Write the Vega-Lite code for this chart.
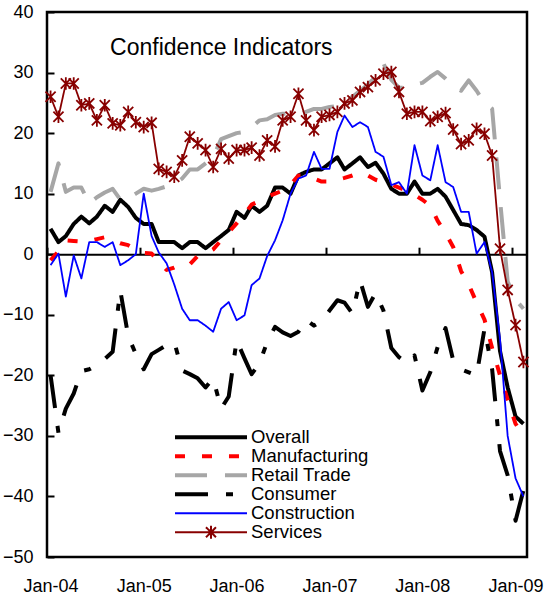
{
  "$schema": "https://vega.github.io/schema/vega-lite/v6.json",
  "width": 480,
  "height": 545,
  "autosize": {"type": "none"},
  "padding": {"left": 47, "top": 12, "right": 19, "bottom": 41},
  "background": "white",
  "config": {
    "font": "Liberation Sans",
    "view": {"stroke": "black", "strokeWidth": 2.5},
    "axis": {"labelFont": "Liberation Sans", "labelFontSize": 18, "labelColor": "black", "grid": false, "title": null},
    "legend": {
      "title": null, "orient": "none", "legendX": 154.75, "legendY": 416,
      "symbolSize": 210, "rowPadding": -2,
      "labelFont": "Liberation Sans", "labelFontSize": 18.5, "labelColor": "black", "labelOffset": 30.75,
      "symbolStrokeWidth": 4, "padding": 0
    }
  },
  "data": {"values": [
    {"d": "2004/01/15", "Overall": 4.2, "Manufacturing": -1, "Retail Trade": 10.3, "Consumer": -20, "Construction": -1.8, "Services": 26},
    {"d": "2004/02/15", "Overall": 2, "Manufacturing": 0.5, "Retail Trade": 15, "Consumer": -29.5, "Construction": 0.1, "Services": 22.7},
    {"d": "2004/03/15", "Overall": 3, "Manufacturing": 2.3, "Retail Trade": 10.3, "Consumer": -25.5, "Construction": -7, "Services": 28.2},
    {"d": "2004/04/15", "Overall": 5, "Manufacturing": 2.2, "Retail Trade": 11, "Consumer": -23, "Construction": -0.2, "Services": 28.2},
    {"d": "2004/05/15", "Overall": 6.2, "Manufacturing": 2.1, "Retail Trade": 11, "Consumer": -19.3, "Construction": -4, "Services": 24.6},
    {"d": "2004/06/15", "Overall": 5.1, "Manufacturing": 2.2, "Retail Trade": 8.4, "Consumer": -19, "Construction": 2, "Services": 24.9},
    {"d": "2004/07/15", "Overall": 6.2, "Manufacturing": 2.5, "Retail Trade": 9.4, "Consumer": -18.3, "Construction": 2, "Services": 22.1},
    {"d": "2004/08/15", "Overall": 8, "Manufacturing": 2.8, "Retail Trade": 10.2, "Consumer": -17.3, "Construction": 1.2, "Services": 24.6},
    {"d": "2004/09/15", "Overall": 7, "Manufacturing": 2.3, "Retail Trade": 10.8, "Consumer": -16.1, "Construction": 2, "Services": 21.6},
    {"d": "2004/10/15", "Overall": 9, "Manufacturing": 1.8, "Retail Trade": 9, "Consumer": -6, "Construction": -1.8, "Services": 21.3},
    {"d": "2004/11/15", "Overall": 7.8, "Manufacturing": 1.5, "Retail Trade": 9.2, "Consumer": -13.5, "Construction": -1, "Services": 23.5},
    {"d": "2004/12/15", "Overall": 6, "Manufacturing": 0.8, "Retail Trade": 10, "Consumer": -16.5, "Construction": 0, "Services": 21.8},
    {"d": "2005/01/15", "Overall": 5, "Manufacturing": 0.2, "Retail Trade": 10.8, "Consumer": -19, "Construction": 10, "Services": 21},
    {"d": "2005/02/15", "Overall": 5, "Manufacturing": 0.1, "Retail Trade": 10.5, "Consumer": -16.5, "Construction": 3, "Services": 21.7},
    {"d": "2005/03/15", "Overall": 2, "Manufacturing": -1.2, "Retail Trade": 10.8, "Consumer": -15.8, "Construction": 0.3, "Services": 14.1},
    {"d": "2005/04/15", "Overall": 2, "Manufacturing": -2.6, "Retail Trade": 11.2, "Consumer": -15, "Construction": -1.5, "Services": 13.6},
    {"d": "2005/05/15", "Overall": 2, "Manufacturing": -2.2, "Retail Trade": 11.5, "Consumer": -14.5, "Construction": -5, "Services": 12.8},
    {"d": "2005/06/15", "Overall": 1, "Manufacturing": -1.6, "Retail Trade": 12.5, "Consumer": -19.2, "Construction": -9, "Services": 15.5},
    {"d": "2005/07/15", "Overall": 2, "Manufacturing": -1.7, "Retail Trade": 14, "Consumer": -19.8, "Construction": -10.9, "Services": 19.4},
    {"d": "2005/08/15", "Overall": 2, "Manufacturing": -0.3, "Retail Trade": 14, "Consumer": -20.5, "Construction": -10.9, "Services": 18.3},
    {"d": "2005/09/15", "Overall": 1, "Manufacturing": 0.1, "Retail Trade": 15, "Consumer": -22, "Construction": -11.8, "Services": 17.2},
    {"d": "2005/10/15", "Overall": 2, "Manufacturing": 0.8, "Retail Trade": 16, "Consumer": -20.5, "Construction": -12.8, "Services": 14.4},
    {"d": "2005/11/15", "Overall": 3, "Manufacturing": 2.3, "Retail Trade": 19, "Consumer": -25.5, "Construction": -9, "Services": 17.4},
    {"d": "2005/12/15", "Overall": 4, "Manufacturing": 3.6, "Retail Trade": 19.5, "Consumer": -23.5, "Construction": -7.9, "Services": 15.8},
    {"d": "2006/01/15", "Overall": 7, "Manufacturing": 5.1, "Retail Trade": 20, "Consumer": -14.2, "Construction": -10.9, "Services": 17.2},
    {"d": "2006/02/15", "Overall": 6, "Manufacturing": 6.6, "Retail Trade": 20.2, "Consumer": -17.2, "Construction": -10.1, "Services": 17.2},
    {"d": "2006/03/15", "Overall": 8, "Manufacturing": 8.2, "Retail Trade": 21, "Consumer": -19.8, "Construction": -5.1, "Services": 17.6},
    {"d": "2006/04/15", "Overall": 7, "Manufacturing": 8.8, "Retail Trade": 22.1, "Consumer": -18, "Construction": -4, "Services": 16.3},
    {"d": "2006/05/15", "Overall": 8, "Manufacturing": 9.5, "Retail Trade": 22.3, "Consumer": -14.5, "Construction": -0.3, "Services": 18.8},
    {"d": "2006/06/15", "Overall": 11, "Manufacturing": 10, "Retail Trade": 23, "Consumer": -12, "Construction": 2.3, "Services": 17.8},
    {"d": "2006/07/15", "Overall": 11, "Manufacturing": 10.5, "Retail Trade": 23.2, "Consumer": -12.9, "Construction": 5.6, "Services": 22.1},
    {"d": "2006/08/15", "Overall": 10, "Manufacturing": 11.5, "Retail Trade": 23.2, "Consumer": -13.5, "Construction": 10, "Services": 22.7},
    {"d": "2006/09/15", "Overall": 13, "Manufacturing": 13, "Retail Trade": 23, "Consumer": -12.8, "Construction": 12.5, "Services": 26.5},
    {"d": "2006/10/15", "Overall": 13.6, "Manufacturing": 13, "Retail Trade": 23.5, "Consumer": -10.8, "Construction": 13, "Services": 22.1},
    {"d": "2006/11/15", "Overall": 14, "Manufacturing": 12.5, "Retail Trade": 24, "Consumer": -11.8, "Construction": 16.9, "Services": 20.5},
    {"d": "2006/12/15", "Overall": 14, "Manufacturing": 12, "Retail Trade": 24, "Consumer": -11, "Construction": 14.1, "Services": 22.7},
    {"d": "2007/01/15", "Overall": 15, "Manufacturing": 12, "Retail Trade": 24.3, "Consumer": -9.3, "Construction": 14.1, "Services": 23},
    {"d": "2007/02/15", "Overall": 16, "Manufacturing": 12.3, "Retail Trade": 24.5, "Consumer": -7.6, "Construction": 20.2, "Services": 23.5},
    {"d": "2007/03/15", "Overall": 14, "Manufacturing": 12.6, "Retail Trade": 25.3, "Consumer": -8, "Construction": 22.9, "Services": 24.9},
    {"d": "2007/04/15", "Overall": 15, "Manufacturing": 13, "Retail Trade": 26, "Consumer": -9.8, "Construction": 21, "Services": 25.4},
    {"d": "2007/05/15", "Overall": 16, "Manufacturing": 13.5, "Retail Trade": 27, "Consumer": -4.3, "Construction": 21.8, "Services": 26.8},
    {"d": "2007/06/15", "Overall": 14.4, "Manufacturing": 13, "Retail Trade": 28, "Consumer": -8.7, "Construction": 21, "Services": 27.6},
    {"d": "2007/07/15", "Overall": 15.1, "Manufacturing": 12.3, "Retail Trade": 29.3, "Consumer": -6.4, "Construction": 16.9, "Services": 28.7},
    {"d": "2007/08/15", "Overall": 13.3, "Manufacturing": 11.9, "Retail Trade": 31.5, "Consumer": -9.3, "Construction": 16.1, "Services": 29.8},
    {"d": "2007/09/15", "Overall": 10.8, "Manufacturing": 11.5, "Retail Trade": 28.8, "Consumer": -15.5, "Construction": 11.4, "Services": 30.1},
    {"d": "2007/10/15", "Overall": 10, "Manufacturing": 11, "Retail Trade": 27.5, "Consumer": -17, "Construction": 11.9, "Services": 26.8},
    {"d": "2007/11/15", "Overall": 10, "Manufacturing": 10.5, "Retail Trade": 27.5, "Consumer": -18, "Construction": 10, "Services": 23.2},
    {"d": "2007/12/15", "Overall": 12, "Manufacturing": 9.8, "Retail Trade": 28, "Consumer": -16.7, "Construction": 18, "Services": 23.5},
    {"d": "2008/01/15", "Overall": 10, "Manufacturing": 9, "Retail Trade": 28.3, "Consumer": -22.5, "Construction": 13, "Services": 23.5},
    {"d": "2008/02/15", "Overall": 10, "Manufacturing": 8, "Retail Trade": 29.3, "Consumer": -19.5, "Construction": 12.2, "Services": 22},
    {"d": "2008/03/15", "Overall": 10.8, "Manufacturing": 5.5, "Retail Trade": 30.1, "Consumer": -15.3, "Construction": 18, "Services": 22.7},
    {"d": "2008/04/15", "Overall": 9.5, "Manufacturing": 3.5, "Retail Trade": 29, "Consumer": -12.2, "Construction": 11.9, "Services": 23.3},
    {"d": "2008/05/15", "Overall": 7.3, "Manufacturing": 1.2, "Retail Trade": 27.8, "Consumer": -17.5, "Construction": 11.1, "Services": 20.6},
    {"d": "2008/06/15", "Overall": 5, "Manufacturing": -2.8, "Retail Trade": 27, "Consumer": -19, "Construction": 7, "Services": 18.2},
    {"d": "2008/07/15", "Overall": 4.8, "Manufacturing": -5, "Retail Trade": 28.7, "Consumer": -19.5, "Construction": 7, "Services": 18.8},
    {"d": "2008/08/15", "Overall": 4, "Manufacturing": -8, "Retail Trade": 27, "Consumer": -20, "Construction": 0.1, "Services": 20.7},
    {"d": "2008/09/15", "Overall": 2.9, "Manufacturing": -10.8, "Retail Trade": 25, "Consumer": -12.3, "Construction": 2, "Services": 19.9},
    {"d": "2008/10/15", "Overall": -3, "Manufacturing": -15.5, "Retail Trade": 24, "Consumer": -19, "Construction": -3, "Services": 16.3},
    {"d": "2008/11/15", "Overall": -16, "Manufacturing": -20, "Retail Trade": 9, "Consumer": -32.5, "Construction": -14, "Services": 0.9},
    {"d": "2008/12/15", "Overall": -22, "Manufacturing": -24, "Retail Trade": -4.5, "Consumer": -36.5, "Construction": -30, "Services": -5.9},
    {"d": "2009/01/15", "Overall": -26.8, "Manufacturing": -28, "Retail Trade": -7.5, "Consumer": -44, "Construction": -37, "Services": -11.7},
    {"d": "2009/02/15", "Overall": -28, "Manufacturing": -30, "Retail Trade": -9, "Consumer": -39, "Construction": -40, "Services": -17.8}
  ]},
  "layer": [
    {
      "transform": [
        {"fold": ["Overall", "Manufacturing", "Retail Trade", "Consumer", "Construction", "Services"], "as": ["series", "value"]},
        {"filter": {"field": "series", "oneOf": ["Overall", "Manufacturing", "Retail Trade", "Consumer"]}}
      ],
      "mark": {"type": "line", "strokeWidth": 4, "strokeCap": "butt", "strokeJoin": "round"},
      "encoding": {
        "x": {
          "field": "d", "type": "temporal",
          "scale": {"domain": [{"year": 2004, "month": 1, "date": 1}, {"year": 2009, "month": 3, "date": 1}], "nice": false},
          "axis": {
            "orient": "bottom", "offset": -302.8,
            "values": [{"year": 2004, "month": 1, "date": 1}, {"year": 2005, "month": 1, "date": 1}, {"year": 2006, "month": 1, "date": 1}, {"year": 2007, "month": 1, "date": 1}, {"year": 2008, "month": 1, "date": 1}, {"year": 2009, "month": 1, "date": 1}],
            "format": "%b-%y", "labelAngle": 0, "labelFlush": false, "labelOverlap": false, "labelBound": false,
            "domain": true, "domainColor": "black", "domainWidth": 2,
            "ticks": true, "tickSize": -7, "tickWidth": 2, "tickColor": "black",
            "labelPadding": 330, "labelOffset": 3.5
          }
        },
        "y": {
          "field": "value", "type": "quantitative",
          "scale": {"domain": [-50, 40], "nice": false, "zero": false},
          "axis": {
            "values": [-50, -40, -30, -20, -10, 0, 10, 20, 30, 40],
            "domain": false, "ticks": true, "tickSize": -7, "tickWidth": 2, "tickColor": "black",
            "labelPadding": 21, "labelFlush": false, "labelOverlap": false, "labelBound": false
          }
        },
        "color": {
          "field": "series", "type": "nominal",
          "scale": {"domain": ["Overall", "Manufacturing", "Retail Trade", "Consumer", "Construction", "Services"], "range": ["#000000", "#ff0000", "#a6a6a6", "#000000", "#0000ff", "#880000"]},
          "legend": {
            "encode": {"symbols": {"update": {
              "shape": {"signal": "datum.value === 'Services' ? 'M-4.97,0L4.97,0M-0.69,-0.69L0.69,0.69M-0.69,0.69L0.69,-0.69M0,-0.9L0,0.9' : 'M-4.97,0L4.97,0'"},
              "strokeWidth": {"signal": "datum.value === 'Construction' || datum.value === 'Services' ? 2 : 4"}
            }}}
          }
        },
        "strokeDash": {
          "field": "series", "type": "nominal",
          "scale": {"domain": ["Overall", "Manufacturing", "Retail Trade", "Consumer", "Construction", "Services"], "range": [[1, 0], [10, 17], [32, 18], [33, 18, 7, 18], [1, 0], [1, 0]]},
          "legend": {
            "encode": {"symbols": {"update": {
              "shape": {"signal": "datum.value === 'Services' ? 'M-4.97,0L4.97,0M-0.69,-0.69L0.69,0.69M-0.69,0.69L0.69,-0.69M0,-0.9L0,0.9' : 'M-4.97,0L4.97,0'"},
              "strokeWidth": {"signal": "datum.value === 'Construction' || datum.value === 'Services' ? 2 : 4"}
            }}}
          }
        }
      }
    },
    {
      "transform": [
        {"fold": ["Overall", "Manufacturing", "Retail Trade", "Consumer", "Construction", "Services"], "as": ["series", "value"]},
        {"filter": {"field": "series", "oneOf": ["Construction", "Services"]}}
      ],
      "mark": {"type": "line", "strokeWidth": 1.8, "strokeJoin": "round"},
      "encoding": {
        "x": {"field": "d", "type": "temporal"},
        "y": {"field": "value", "type": "quantitative"},
        "color": {"field": "series", "type": "nominal"},
        "strokeDash": {"field": "series", "type": "nominal"}
      }
    },
    {
      "transform": [
        {"fold": ["Services"], "as": ["series", "value"]}
      ],
      "mark": {"type": "point", "shape": "M-0.8,-0.8L0.8,0.8M-0.8,0.8L0.8,-0.8M0,-1L0,1", "size": 160, "filled": false, "stroke": "#880000", "strokeWidth": 1.8, "opacity": 1},
      "encoding": {
        "x": {"field": "d", "type": "temporal"},
        "y": {"field": "value", "type": "quantitative"}
      }
    },
    {
      "data": {"values": [{"label": "Confidence Indicators"}]},
      "mark": {"type": "text", "align": "left", "baseline": "alphabetic", "fontSize": 23, "font": "Liberation Sans", "color": "black"},
      "encoding": {
        "x": {"datum": {"year": 2004, "month": 9, "date": 5}, "type": "temporal"},
        "y": {"datum": 32.9, "type": "quantitative"},
        "text": {"field": "label"}
      }
    }
  ]
}
